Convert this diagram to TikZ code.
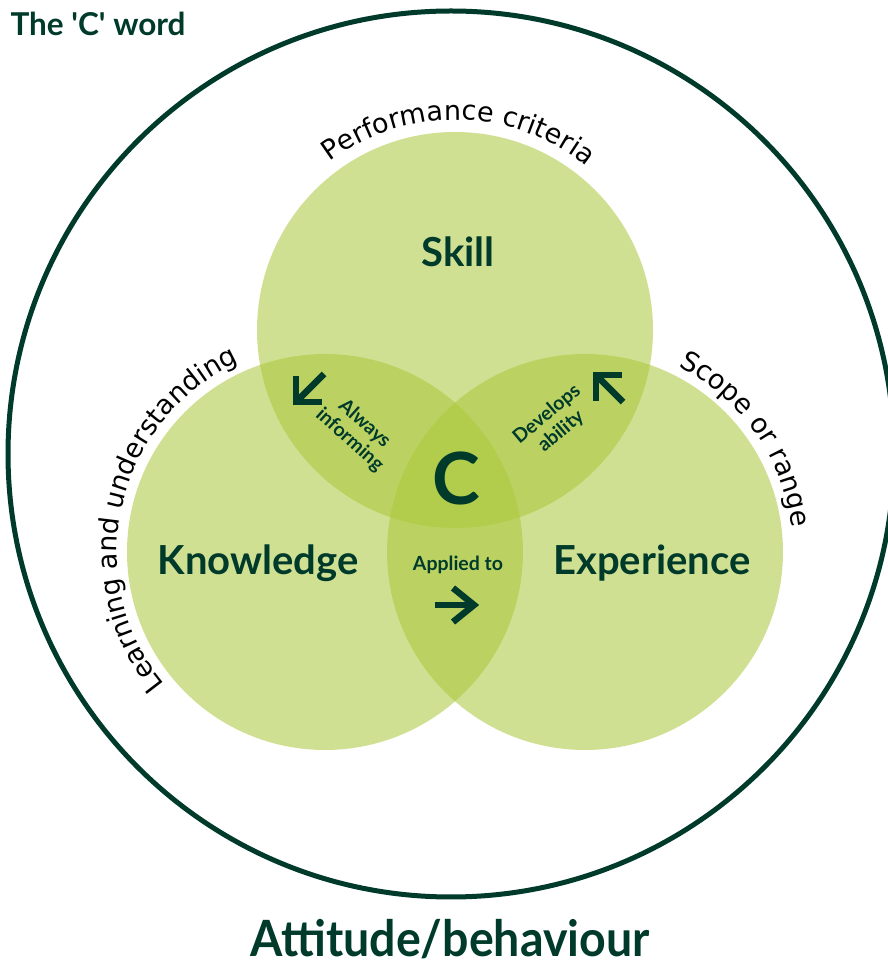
\documentclass[tikz,border=0pt]{standalone}
\usepackage{fontspec}
\setmainfont{Lato}
\newfontfamily\curvefont{DejaVu Sans}
\usetikzlibrary{decorations.text}
\definecolor{darkgreen}{HTML}{003A2B}
\definecolor{leaf}{RGB}{170,199,58}

\begin{document}
\begin{tikzpicture}[x=1pt,y=1pt,
  venn/.style={circle, fill=leaf, fill opacity=0.55, minimum size=396pt, inner sep=0pt},
  bigword/.style={text=darkgreen, font=\bfseries\fontsize{40}{40}\selectfont},
  smallword/.style={text=darkgreen, font=\bfseries\fontsize{19.5}{22}\selectfont, align=center},
  arrowmark/.style={draw=darkgreen, line width=6.5pt, line join=miter, line cap=butt},
  ringtext/.style={decorate, decoration={text along path, text align=center,
     text={|\curvefont\fontsize{27}{27}\selectfont|#1}}}
]
\useasboundingbox (0,0) rectangle (888,964);

% outer boundary
\node[circle, draw=darkgreen, line width=5pt, minimum size=886pt, inner sep=0pt] (world) at (451,510) {};

% the three overlapping circles
\node[venn] (skill) at (455,634) {};
\node[venn] (knowledge) at (325,412) {};
\node[venn] (experience) at (585,412) {};

% main labels
\node[bigword] (skilllabel) at (458,712) {Skill};
\node[bigword] (knowlabel) at (258,401) {Knowledge};
\node[bigword] (explabel) at (652,401) {Experience};
\node[text=darkgreen, font=\bfseries\fontsize{72}{72}\selectfont] (core) at (456,486) {C};

% overlap labels
\node[smallword] (applied) at (458,399) {Applied to};
\node[smallword, rotate=-42] (inform) at (357,532) {Always\\informing};
\node[smallword, rotate=40] (develop) at (554,541) {Develops\\ability};

% arrows
\coordinate (a1s) at (435,359); \coordinate (a1t) at (474,359);
\draw[arrowmark] (a1s) -- (a1t);
\draw[arrowmark] (453,376) -- (a1t) -- (453,342);

\coordinate (a2s) at (324,590); \coordinate (a2t) at (296,562);
\draw[arrowmark] (a2s) -- (a2t);
\draw[arrowmark] (296,588) -- (a2t) -- (322,562);

\coordinate (a3s) at (623,562); \coordinate (a3t) at (596,589);
\draw[arrowmark] (a3s) -- (a3t);
\draw[arrowmark] (622,589) -- (a3t) -- (596,563);

% text around the circles
\path[ringtext={Performance criteria}] (skill.center) ++(128:210) arc[start angle=128, end angle=50, radius=210];
\path[ringtext={Learning and understanding}] (knowledge.center) ++(220:208) arc[start angle=220, end angle=114, radius=208];
\path[ringtext={Scope or range}] (experience.center) ++(64:208) arc[start angle=64, end angle=6, radius=208];

% title and footer
\node[anchor=west, text=darkgreen, font=\bfseries\fontsize{31.5}{31.5}\selectfont] (title) at (7,940) {The \textquotesingle C\textquotesingle{} word};
\node[anchor=base, text=darkgreen, font=\bfseries\fontsize{50}{50}\selectfont, inner sep=0pt] (attitude) at (450,8) {\scalebox{0.93}[1]{Attitude/behaviour}};
\end{tikzpicture}
\end{document}
